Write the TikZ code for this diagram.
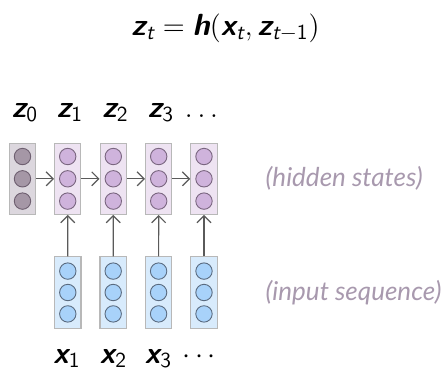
\documentclass[tikz,border=0pt]{standalone}
\usepackage{fontspec}
\usepackage{amsmath}
\newfontfamily\notefont{Lato}
\usetikzlibrary{positioning,arrows.meta}
\newcommand{\vsf}[1]{\text{\sffamily\bfseries\slshape #1}}
\newcommand{\ssf}[1]{\text{\sffamily\slshape #1}}
\newcommand{\nsf}[1]{\text{\sffamily #1}}

\definecolor{boxline}{HTML}{B8B8B8}
\definecolor{zfill}{HTML}{DCD7DE}
\definecolor{zunitfill}{HTML}{A597A6}
\definecolor{zunitline}{HTML}{6E5F70}
\definecolor{hfill}{HTML}{EEE3F2}
\definecolor{hunitfill}{HTML}{CFB3DC}
\definecolor{hunitline}{HTML}{7A6680}
\definecolor{xfill}{HTML}{D8EBFC}
\definecolor{xunitfill}{HTML}{A8D2FA}
\definecolor{xunitline}{HTML}{5A6B80}
\definecolor{notecol}{HTML}{A899AE}
\definecolor{linkcol}{HTML}{5A5A5A}

\tikzset{
  layerbox/.style={draw=boxline, line width=0.55pt, minimum width=13.2pt, minimum height=35.6pt, inner sep=0pt},
  zbox/.style={layerbox, fill=zfill},
  hbox/.style={layerbox, fill=hfill},
  xbox/.style={layerbox, fill=xfill},
  unit/.style={circle, line width=0.45pt, minimum size=8.2pt, inner sep=0pt},
  zunit/.style={unit, draw=zunitline, fill=zunitfill},
  hunit/.style={unit, draw=hunitline, fill=hunitfill},
  xunit/.style={unit, draw=xunitline, fill=xunitfill},
  link/.style={draw=linkcol, line width=0.6pt, -{Straight Barb[length=3.5pt,width=7pt]}},
  veclabel/.style={font=\fontsize{15.3}{18}\selectfont, inner sep=0pt, anchor=base},
  note/.style={font=\notefont\itshape\fontsize{13}{15}\selectfont, text=notecol, inner sep=0pt}
}

\begin{document}
\begin{tikzpicture}[x=0.5pt, y=-0.5pt]
        \useasboundingbox (0,0) rectangle (446,371);

        % Recurrence at the top
        \node[veclabel] (rule) at (225.5,35)
        {$\vsf{z}_{\ssf{t}} = \vsf{h}(\vsf{x}_{\ssf{t}}, \vsf{z}_{\ssf{t}-\nsf{1}})$};

        % Hidden state layers (z0 is the initial one)
        \node[zbox] (z0) at (22.5,178.8) {};
        \node[hbox] (z1) at (67.7,178.8) {};
        \node[hbox] (z2) at (113.3,178.8) {};
        \node[hbox] (z3) at (158.7,178.8) {};
        \node[hbox] (z4) at (204,178.8) {};

        % Input layers
        \node[xbox] (x1) at (67.8,292.5) {};
        \node[xbox] (x2) at (113.2,292.5) {};
        \node[xbox] (x3) at (158.6,292.5) {};
        \node[xbox] (x4) at (204,292.5) {};

        % Units inside the layers
        \foreach \n/\dy in {a/-11.15pt, b/0pt, c/11.15pt} {
          \node[zunit] (z0\n) at ([yshift=\dy]z0.center) {};
          \foreach \k in {1,...,4} {
            \node[hunit] (z\k\n) at ([yshift=\dy]z\k.center) {};
            \node[xunit] (x\k\n) at ([yshift=0.96*\dy]x\k.center) {};
          }
        }

        % Recurrent connections
        \draw[link] (z0) -- (z1);
        \draw[link] (z1) -- (z2);
        \draw[link] (z2) -- (z3);
        \draw[link] (z3) -- (z4);

        % Input connections
        \draw[link] (x1) -- (z1);
        \draw[link] (x2) -- (z2);
        \draw[link] (x3) -- (z3);
        \draw[link] (x4) -- (z4);

        % State labels
        \node[veclabel] (lz0) at (25,117) {$\vsf{z}_{\nsf{0}}$};
        \node[veclabel] (lz1) at (70,117) {$\vsf{z}_{\nsf{1}}$};
        \node[veclabel] (lz2) at (115.5,117) {$\vsf{z}_{\nsf{2}}$};
        \node[veclabel] (lz3) at (161,117) {$\vsf{z}_{\nsf{3}}$};
        \node[veclabel] (lz4) at (201.5,117) {$\ldots$};

        % Input labels
        \node[veclabel] (lx1) at (67,363) {$\vsf{x}_{\nsf{1}}$};
        \node[veclabel] (lx2) at (113.5,363) {$\vsf{x}_{\nsf{2}}$};
        \node[veclabel] (lx3) at (158.5,363) {$\vsf{x}_{\nsf{3}}$};
        \node[veclabel] (lx4) at (201.5,363) {$\cdots$};

        % Side notes
        \node[note, anchor=west, right=23.8pt of z4] (hnote) {(hidden states)};
        \node[note, anchor=west, right=23.8pt of x4] (xnote) {(input sequence)};
\end{tikzpicture}
\end{document}
